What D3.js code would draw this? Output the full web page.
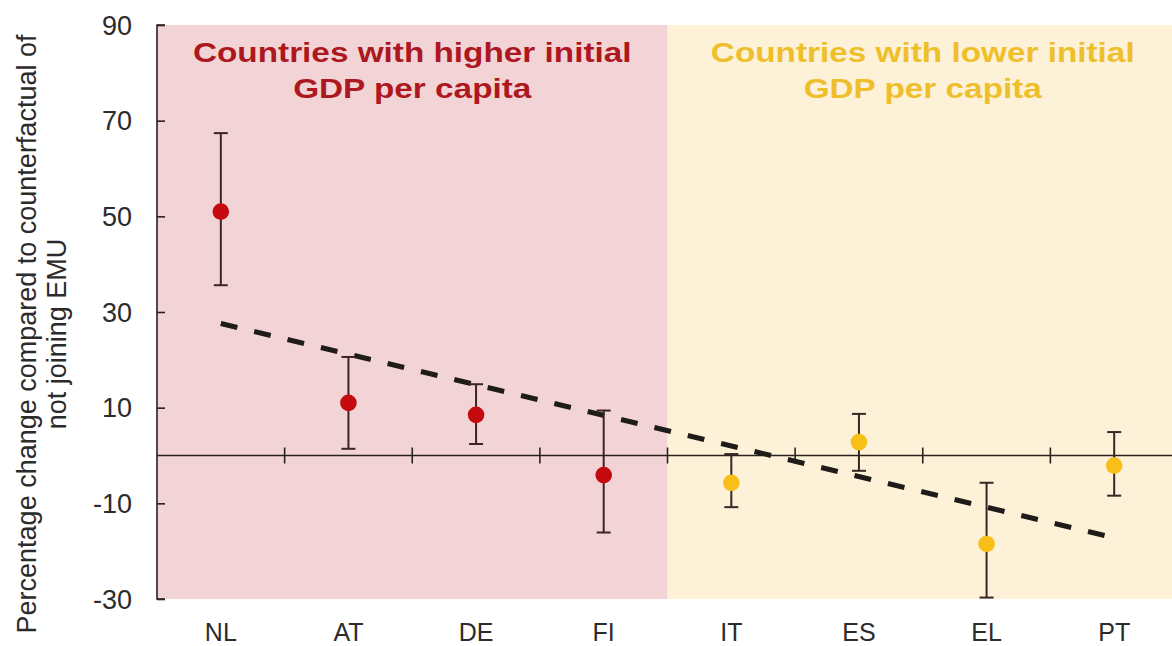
<!DOCTYPE html>
<html>
<head>
<meta charset="utf-8">
<script src="https://cdn.jsdelivr.net/npm/d3@7"></script>
<style>
  html, body { margin: 0; padding: 0; background: #fff; }
  svg { display: block; }
  text { font-family: "Liberation Sans", Arial, sans-serif; }
</style>
</head>
<body>
<svg id="chart" width="1172" height="646"></svg>
<script>
// Euro-area members, ordered by initial GDP per capita
const countries = ["NL", "AT", "DE", "FI", "IT", "ES", "EL", "PT"];
const groups    = ["high", "high", "high", "high", "low", "low", "low", "low"];
// Point estimates and confidence bounds (% change vs. no-EMU counterfactual)
const estimate  = [51.0, 11.0, 8.5, -4.1, -5.7, 2.8, -18.5, -2.1];
const upper     = [67.4, 20.6, 14.9, 9.4, 0.3, 8.7, -5.7, 4.9];
const lower     = [35.6, 1.4, 2.4, -16.1, -10.8, -3.2, -29.7, -8.4];
// Fitted linear trend, evaluated at the first and last country
const trendEnds = [27.6, -17.2];
const yTicks    = [90, 70, 50, 30, 10, -10, -30];
const panelTitles = {
  high: ["Countries with higher initial", "GDP per capita"],
  low:  ["Countries with lower initial", "GDP per capita"]
};
const axisTitle = ["Percentage change compared to counterfactual of", "not joining EMU"];

const W = 1172, H = 646;
const plotTop = 25, plotBottom = 599, plotLeft = 157, plotRight = 1178;

const palette = {
  high: { bg: "#f3d4d6", dot: "#c40a0f", title: "#ad1820" },
  low:  { bg: "#fdf2d8", dot: "#f7bf18", title: "#efbf2b" }
};
const ink = "#2a211e";

const svg = d3.select("#chart");

const x = d3.scaleBand().domain(countries).range([plotLeft, plotRight]).padding(0);
const y = d3.scaleLinear().domain([-30, 90]).range([plotBottom, plotTop]);

// Shaded panels for the two country groups
const groupKeys = ["high", "low"];
groupKeys.forEach(g => {
  const members = countries.filter((c, i) => groups[i] === g);
  const x0 = x(members[0]);
  const x1 = x(members[members.length - 1]) + x.bandwidth();
  svg.append("rect")
    .attr("x", x0).attr("y", y(90))
    .attr("width", x1 - x0).attr("height", y(-30) - y(90))
    .attr("fill", palette[g].bg);

  const cx = (x0 + Math.min(x1, W)) / 2 + (g === "low" ? 3 : 0);
  panelTitles[g].forEach((line, k) => {
    svg.append("text")
      .attr("transform", `translate(${cx},${62 + k * 36}) scale(1.19,1)`)
      .attr("text-anchor", "middle")
      .attr("font-size", 28)
      .attr("font-weight", "bold")
      .attr("fill", palette[g].title)
      .text(line);
  });
});

// Vertical axis with inward ticks
const yAxis = svg.append("g")
  .attr("transform", `translate(${plotLeft},0)`)
  .call(d3.axisRight(y).tickValues(yTicks).tickSize(8).tickFormat(""));
yAxis.select(".domain").attr("d", `M8,${y(90)}H0V${y(-30)}H8`).attr("stroke", ink).attr("stroke-width", 1.6).attr("fill", "none");
yAxis.selectAll(".tick line").attr("stroke", ink).attr("stroke-width", 1.6);

svg.append("g").selectAll("text")
  .data(yTicks).join("text")
  .attr("x", 132).attr("y", d => y(d))
  .attr("dy", "0.36em")
  .attr("text-anchor", "end")
  .attr("font-size", 27)
  .attr("fill", "#2b2b2b")
  .text(d => d);

// Horizontal zero line with crossing ticks at category boundaries
svg.append("line")
  .attr("x1", plotLeft).attr("x2", W)
  .attr("y1", y(0)).attr("y2", y(0))
  .attr("stroke", ink).attr("stroke-width", 1.6);
svg.append("g").selectAll("line")
  .data(countries.slice(1)).join("line")
  .attr("x1", d => x(d)).attr("x2", d => x(d))
  .attr("y1", y(0) - 8).attr("y2", y(0) + 8)
  .attr("stroke", ink).attr("stroke-width", 1.6);

// Category labels
svg.append("g").selectAll("text")
  .data(countries).join("text")
  .attr("x", d => x(d) + x.bandwidth() / 2)
  .attr("y", 641)
  .attr("text-anchor", "middle")
  .attr("font-size", 25)
  .attr("fill", "#2b2b2b")
  .text(d => d);

// Axis title
const at = svg.append("text")
  .attr("transform", "translate(0,334) rotate(-90)")
  .attr("text-anchor", "middle")
  .attr("font-size", 27)
  .attr("fill", "#2b2b2b");
axisTitle.forEach((line, k) => {
  at.append("tspan").attr("x", 0).attr("y", 36 + k * 30).text(line);
});

// Dashed trend line
const cxOf = c => x(c) + x.bandwidth() / 2;
const trendPts = [[countries[0], trendEnds[0]], [countries[countries.length - 1], trendEnds[1]]];
svg.append("path")
  .attr("d", d3.line().x(d => cxOf(d[0])).y(d => y(d[1]))(trendPts))
  .attr("stroke", "#1f1b18")
  .attr("stroke-width", 5)
  .attr("stroke-dasharray", "17,17.3")
  .attr("fill", "none");

// Confidence intervals
const rows = countries.map((c, i) => ({ c, g: groups[i], v: estimate[i], hi: upper[i], lo: lower[i] }));
const bars = svg.append("g").attr("stroke", "#3a2424").attr("stroke-width", 2);
rows.forEach(r => {
  const cx = cxOf(r.c);
  bars.append("line").attr("x1", cx).attr("x2", cx).attr("y1", y(r.hi)).attr("y2", y(r.lo));
  bars.append("line").attr("x1", cx - 7).attr("x2", cx + 7).attr("y1", y(r.hi)).attr("y2", y(r.hi));
  bars.append("line").attr("x1", cx - 7).attr("x2", cx + 7).attr("y1", y(r.lo)).attr("y2", y(r.lo));
});

// Point estimates
svg.append("g").selectAll("circle")
  .data(rows).join("circle")
  .attr("cx", d => cxOf(d.c))
  .attr("cy", d => y(d.v))
  .attr("r", 8.3)
  .attr("fill", d => palette[d.g].dot);
</script>
</body>
</html>
